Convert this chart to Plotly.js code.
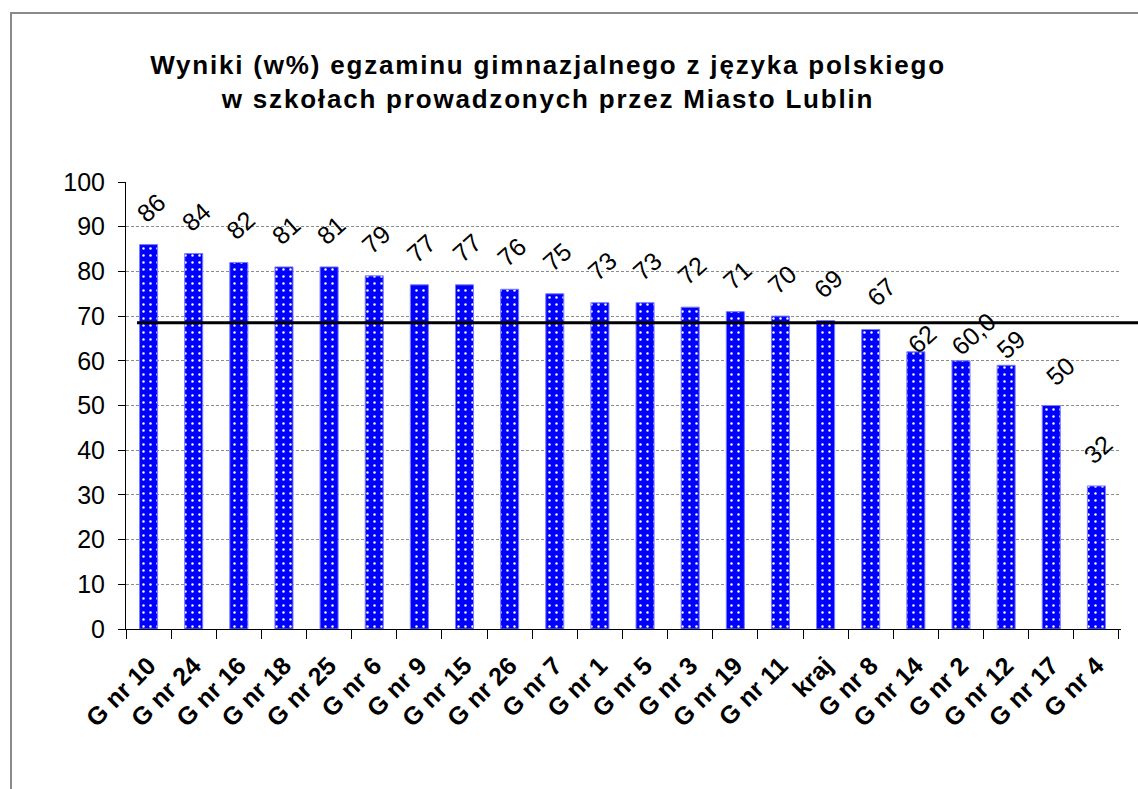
<!DOCTYPE html>
<html>
<head>
<meta charset="utf-8">
<script src="https://cdn.plot.ly/plotly-3.0.1.min.js"></script>
<style>
html,body{margin:0;padding:0;background:#fff;overflow:hidden}
.gtitle{letter-spacing:1.8px}
</style>
</head>
<body>
<div id="chart" style="width:1138px;height:789px"></div>
<script>
// ---- data ----
const schools = ["G nr 10","G nr 24","G nr 16","G nr 18","G nr 25","G nr 6","G nr 9","G nr 15","G nr 26","G nr 7","G nr 1","G nr 5","G nr 3","G nr 19","G nr 11","kraj","G nr 8","G nr 14","G nr 2","G nr 12","G nr 17","G nr 4"];
const scores = [86,84,82,81,81,79,77,77,76,75,73,73,72,71,70,69,67,62,60,59,50,32];
const valueLabels = ["86","84","82","81","81","79","77","77","76","75","73","73","72","71","70","69","67","62","60,0","59","50","32"];
const referenceLevel = 68.5;
const titleText = "Wyniki (w%) egzaminu gimnazjalnego z języka polskiego<br>w szkołach prowadzonych przez Miasto Lublin";

// ---- styling helpers ----
const FONT = "'Liberation Sans', Arial, sans-serif";
const labelNudge = {
  "G nr 8": {dy: 38, dx: 10},
  "G nr 14": {dy: 13, dx: 6},
  "G nr 2": {dy: 27, dx: 12},
  "G nr 12": {dy: 21, dx: 5},
  "G nr 17": {dy: 35, dx: 9}
};

const W = 1138, H = 789;
const margin = {l: 126, r: 17, t: 182, b: 160};
const pw = W - margin.l - margin.r, ph = H - margin.t - margin.b;

const trace = {
  type: "bar",
  x: schools,
  y: scores,
  marker: {
    color: "#0000ff",
    line: {color: "#7a7aff", width: 1},
    pattern: {shape: ".", fgcolor: "#ffffff", bgcolor: "#0000ff", size: 7, solidity: 0.1}
  },
  hoverinfo: "skip"
};

const annotations = schools.map((s, i) => {
  const n = labelNudge[s] || {dy: 37, dx: 2};
  return {
    x: s, y: scores[i], xref: "x", yref: "y",
    text: valueLabels[i], showarrow: false,
    textangle: -42, xanchor: "center", yanchor: "middle",
    yshift: n.dy, xshift: n.dx,
    font: {family: FONT, size: 25, color: "#000"}
  };
});

const layout = {
  width: W, height: H,
  margin: margin,
  paper_bgcolor: "#fff", plot_bgcolor: "#fff",
  showlegend: false,
  bargap: 0.6,
  title: {
    text: titleText,
    font: {family: FONT, size: 26, color: "#000", weight: "bold"},
    x: (548 - margin.l) / pw, xref: "paper", xanchor: "center",
    y: 1 - 74 / H, yref: "container", yanchor: "middle"
  },
  xaxis: {
    type: "category",
    showline: true, linecolor: "#000", linewidth: 1,
    ticks: "outside", ticklen: 9, tickcolor: "#000", tickson: "boundaries",
    tickangle: -45,
    tickfont: {family: FONT, size: 25, color: "#000", weight: "bold"},
    ticklabelstandoff: 11,
    showgrid: false, zeroline: false,
    fixedrange: true
  },
  yaxis: {
    range: [0, 100], dtick: 10, tick0: 0,
    showline: true, linecolor: "#000", linewidth: 1,
    ticks: "outside", ticklen: 7, tickcolor: "#000",
    tickfont: {family: FONT, size: 25, color: "#000"},
    ticklabelstandoff: 8,
    showgrid: true, gridcolor: "#8c8c8c", gridwidth: 1, griddash: "3px,2px",
    zeroline: false, fixedrange: true
  },
  shapes: [
    {type: "line", xref: "paper", yref: "y", x0: 11 / pw, x1: 1.1, y0: referenceLevel, y1: referenceLevel,
     line: {color: "#000", width: 3}, layer: "above"},
    {type: "rect", xref: "paper", yref: "paper",
     x0: (11 - margin.l) / pw, x1: 1.2, y0: -0.6, y1: 1 + (margin.t - 13) / ph,
     line: {color: "#8a8a8a", width: 2}, fillcolor: "rgba(0,0,0,0)", layer: "below"}
  ],
  annotations: annotations
};

Plotly.newPlot("chart", [trace], layout, {displayModeBar: false, staticPlot: true});
</script>
</body>
</html>
